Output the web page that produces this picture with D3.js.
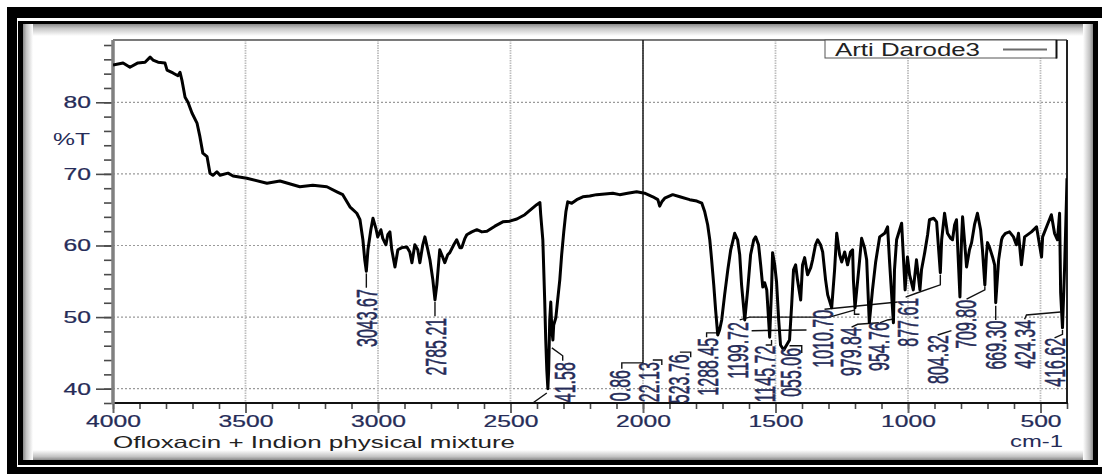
<!DOCTYPE html>
<html><head><meta charset="utf-8">
<script src="https://cdn.jsdelivr.net/npm/d3@7"></script>
<style>
html,body{margin:0;padding:0;background:#fff;}
svg{display:block;}
text{font-family:"Liberation Sans",Arial,sans-serif;}
</style></head>
<body><svg id="c" width="1102" height="474"></svg>
<script>
// ---------------- DATA ----------------
const wavenumbers = [4000,3962,3936,3906,3879,3860,3849,3830,3804,3796,3774,3755,3747,3740,3728,3717,3702,3683,3672,3661,3645,3634,3623,3608,3596,3566,3547,3495,3419,3370,3295,3246,3193,3155,3133,3106,3080,3068,3057,3050,3044,3038,3027,3019,3008,3001,2989,2982,2970,2963,2955,2948,2936,2925,2910,2891,2880,2872,2861,2850,2842,2831,2823,2812,2804,2793,2785,2778,2767,2755,2748,2737,2729,2714,2703,2691,2684,2672,2665,2646,2627,2608,2589,2559,2529,2503,2476,2446,2427,2401,2389,2386,2378,2371,2367,2363,2359,2356,2352,2348,2344,2340,2337,2329,2322,2314,2307,2299,2291,2284,2269,2250,2227,2201,2175,2144,2114,2088,2058,2024,1994,1963,1944,1937,1929,1918,1888,1861,1824,1797,1778,1767,1756,1748,1741,1733,1726,1718,1711,1703,1692,1680,1669,1654,1643,1635,1628,1616,1605,1594,1582,1575,1564,1556,1548,1541,1533,1522,1515,1511,1503,1496,1488,1481,1469,1458,1447,1439,1432,1424,1417,1405,1398,1390,1379,1367,1360,1349,1341,1330,1322,1311,1303,1288,1277,1269,1258,1250,1239,1228,1217,1209,1206,1200,1186,1175,1164,1156,1146,1134,1122,1107,1088,1077,1070,1055,1051,1043,1024,1011,1002,994,980,968,955,949,937,926,919,903,892,878,873,862,851,839,832,824,817,804,798,794,787,779,768,760,749,738,726,719,710,704,700,692,681,673,669,658,647,643,632,617,602,591,583,572,560,534,515,496,492,474,459,447,436,428,424,417,409,402,400];
const transmittance = [85.2,85.5,84.9,85.5,85.6,86.3,85.9,85.6,85.5,84.5,84.1,83.7,84.2,83.1,80.7,80.0,78.5,77.1,75.2,72.9,72.4,70.1,69.8,70.3,69.8,70.1,69.7,69.4,68.7,69.0,68.2,68.4,68.2,67.5,67.1,65.4,64.5,63.6,60.8,58.0,56.4,59.4,62.2,63.8,62.4,61.2,62.2,61.0,60.1,61.5,61.9,59.4,57.0,59.4,59.7,59.8,59.1,57.6,60.1,59.4,57.6,60.1,61.2,59.4,58.0,55.2,52.4,54.5,59.4,58.3,57.6,58.7,59.0,60.1,60.8,59.7,59.7,61.0,61.5,61.9,62.2,61.9,62.0,62.7,63.3,63.4,63.7,64.3,64.9,65.7,66.0,64.3,60.8,52.4,46.8,42.6,40.0,42.6,49.6,52.1,48.2,46.8,48.9,49.9,52.4,55.2,58.7,61.9,64.7,66.1,65.9,66.4,66.8,66.9,67.1,67.2,67.3,67.1,67.3,67.5,67.3,66.8,66.4,65.5,66.1,66.6,67.1,66.8,66.4,66.2,65.9,64.7,62.9,60.8,58.0,54.5,51.0,47.5,48.2,49.6,53.1,56.6,59.4,61.7,60.8,58.7,54.5,49.6,53.8,58.7,60.8,61.2,60.1,57.3,54.2,54.8,53.8,47.2,53.8,59.0,57.3,54.9,49.6,46.1,45.4,46.1,46.8,51.7,56.6,57.3,55.2,52.4,57.3,58.3,55.9,56.9,58.0,60.1,60.8,60.1,59.1,55.2,53.1,51.3,56.6,61.7,58.7,57.7,59.1,57.3,59.1,59.4,55.2,51.3,56.6,61.0,59.7,58.0,49.2,53.8,57.7,61.2,61.7,62.6,58.0,49.2,56.6,60.8,63.1,53.8,58.4,55.9,53.8,58.0,53.8,56.6,59.0,61.5,63.6,63.8,63.3,56.2,60.8,64.5,61.7,61.0,60.8,62.9,63.6,52.8,60.8,64.0,60.8,57.0,59.4,60.4,62.9,64.5,62.2,59.4,54.5,58.7,60.4,59.7,58.4,57.3,52.0,58.0,60.8,61.2,61.7,61.9,61.2,60.1,61.7,57.3,61.2,61.9,62.6,58.4,61.2,62.9,64.3,61.7,60.8,64.5,53.4,48.5,57.0,66.4,69.4];

const xTickValues = [4000,3500,3000,2500,2000,1500,1000,500];
const yTickValues = [40,50,60,70,80];
const seriesName = "Arti Darode3";
const sampleTitle = "Ofloxacin + Indion physical mixture";
const xUnit = "cm-1";
const yUnit = "%T";

// peak annotations (text as visible, anchor in data units: wavenumber, %T of label top)
const peakText = ["3043.67","2785.21","41.58","0.86","22.13","523.76","1288.45","1199.72","1145.72","055.06","1010.70","979.84","954.76","877.61","804.32","709.80","669.30","424.34","416.62"];
const peakLabelW = [3042,2782,2295,2088,1978,1865,1756,1643,1541,1443,1322,1217,1111,1002,888,783,670,560,447];
const peakLabelT = [53.9,49.9,43.7,42.6,43.7,44.8,47.1,49.3,46.0,45.7,51.0,48.6,49.3,52.7,47.5,52.4,49.5,49.6,47.1];
// leader lines, each a list of [wavenumber, %T]
const leaders = [
  [[3044,56.1],[3044,54.1]],
  [[2785,52.1],[2785,50.1]],
  [[2344,45.7],[2303,44.6],[2303,43.9]],
  [[2363,39.4],[2416,38.0]],
  [[2000,88.7],[2000,43.6],[2080,43.6],[2080,42.8]],
  [[1963,44.0],[1929,44.0],[1929,43.3]],
  [[1861,45.1],[1820,45.1],[1820,44.4]],
  [[1714,47.8],[1760,47.8],[1760,47.2]],
  [[1635,49.6],[1598,50.0],[1296,50.0],[1200,51.0]],
  [[1590,48.1],[1383,48.2]],
  [[1537,46.1],[1515,46.1],[1515,46.8]],
  [[1447,46.0],[1401,46.0],[1401,45.0]],
  [[1315,51.1],[1039,52.1]],
  [[1213,48.6],[1190,49.0],[1110,49.2]],
  [[1202,51.4],[1202,50.4],[1183,50.4]],
  [[1107,49.2],[1077,49.6],[1060,49.7]],
  [[1009,52.8],[964,53.4],[878,54.5],[878,55.9]],
  [[888,47.5],[836,48.1]],
  [[779,52.5],[710,53.8],[710,54.3]],
  [[669,51.6],[669,49.6]],
  [[560,49.7],[553,50.3],[424,50.7]],
  [[447,47.1],[417,47.6],[417,48.2]]
];

// ---------------- DRAW ----------------
const svg = d3.select("#c");
const W = 1102, H = 474;
const plot = {l:113, r:1067, t:40, b:403};
const labelColor = "#262c58";

// frame
svg.append("rect").attr("width",W).attr("height",H).attr("fill","#fff");
svg.append("rect").attr("x",7).attr("y",7).attr("width",W).attr("height",H).attr("fill","#000");
svg.append("rect").attr("x",17).attr("y",18).attr("width",1085).attr("height",449).attr("fill","#fff");
svg.append("rect").attr("x",18).attr("y",21).attr("width",1080).attr("height",444).attr("fill","#000");
svg.append("rect").attr("x",23).attr("y",24).attr("width",1070).attr("height",436).attr("fill","#fff");

const defs = svg.append("defs");
function grad(id,x1,y1,x2,y2){
  const g = defs.append("linearGradient").attr("id",id).attr("x1",x1).attr("y1",y1).attr("x2",x2).attr("y2",y2);
  g.append("stop").attr("offset","0").attr("stop-color","#8a8a8a");
  g.append("stop").attr("offset","0.35").attr("stop-color","#c4c4c4");
  g.append("stop").attr("offset","1").attr("stop-color","#ffffff");
}
grad("gt",0,0,0,1); grad("gb",0,1,0,0); grad("gl",0,0,1,0); grad("gr",1,0,0,0);
svg.append("rect").attr("x",23).attr("y",24).attr("width",1070).attr("height",12).attr("fill","url(#gt)");
svg.append("rect").attr("x",23).attr("y",450).attr("width",1070).attr("height",10).attr("fill","url(#gb)");
svg.append("rect").attr("x",23).attr("y",24).attr("width",10).attr("height",436).attr("fill","url(#gl)");
svg.append("rect").attr("x",1083).attr("y",24).attr("width",10).attr("height",436).attr("fill","url(#gr)");

defs.append("clipPath").attr("id","pc").append("rect")
  .attr("x",plot.l).attr("y",plot.t).attr("width",plot.r-plot.l).attr("height",plot.b-plot.t);

svg.append("rect").attr("x",plot.l).attr("y",plot.t).attr("width",plot.r-plot.l).attr("height",plot.b-plot.t).attr("fill","#fff");

const x = d3.scaleLinear().domain([4000,400]).range([plot.l, plot.r]);
const y = d3.scaleLinear().domain([38,88.7]).range([plot.b, plot.t]);

// grid
const grid = svg.append("g");
grid.selectAll("line.h").data(yTickValues).join("line")
  .attr("x1",plot.l).attr("x2",plot.r).attr("y1",d=>y(d)).attr("y2",d=>y(d))
  .attr("stroke","#9a9a9a").attr("stroke-width",1.2).attr("stroke-dasharray","2,2");
grid.selectAll("line.v").data(xTickValues.filter(d=>d!==4000)).join("line")
  .attr("x1",d=>x(d)).attr("x2",d=>x(d)).attr("y1",plot.t).attr("y2",plot.b)
  .attr("stroke","#bdbdbd").attr("stroke-width",1.8).attr("stroke-dasharray","1.5,1");

// axes
const stretch = 1.45;
const yMinor = svg.append("g").attr("transform",`translate(${plot.l},0)`)
  .call(d3.axisLeft(y).tickValues(d3.range(38,89,2)).tickSize(9).tickFormat(""));
const yMajor = svg.append("g").attr("transform",`translate(${plot.l},0)`)
  .call(d3.axisLeft(y).tickValues(yTickValues).tickSize(17).tickPadding(5).tickFormat(d3.format("d")));
const xMinor = svg.append("g").attr("transform",`translate(0,${plot.b})`)
  .call(d3.axisBottom(x).tickValues(d3.range(4000,399,-100)).tickSize(6).tickFormat(""));
const xMajor = svg.append("g").attr("transform",`translate(0,${plot.b})`)
  .call(d3.axisBottom(x).tickValues(xTickValues).tickSize(10).tickPadding(2).tickFormat(d3.format("d")));
[yMinor,yMajor,xMinor,xMajor].forEach(g=>{
  g.select(".domain").remove();
  g.selectAll(".tick line").attr("stroke","#4a4a4a").attr("stroke-width",1.6);
});
yMajor.selectAll(".tick text").attr("x",0).attr("transform",`translate(-22,0) scale(${stretch},1)`)
  .attr("font-size",17).attr("fill",labelColor).attr("stroke",labelColor).attr("stroke-width",0.25);
xMajor.selectAll(".tick text").attr("transform",`scale(${stretch},1)`)
  .attr("font-size",17).attr("fill",labelColor).attr("stroke",labelColor).attr("stroke-width",0.25);
xMajor.selectAll(".tick line").attr("stroke","#666").attr("stroke-width",2);

// frame of plot
svg.append("line").attr("x1",plot.l).attr("x2",plot.r).attr("y1",plot.t).attr("y2",plot.t).attr("stroke","#7a7a7a").attr("stroke-width",2);
svg.append("line").attr("x1",plot.r).attr("x2",plot.r).attr("y1",plot.t).attr("y2",plot.b).attr("stroke","#222").attr("stroke-width",2);
svg.append("line").attr("x1",plot.l).attr("x2",plot.r+1).attr("y1",plot.b).attr("y2",plot.b).attr("stroke","#111").attr("stroke-width",2);
svg.append("line").attr("x1",plot.l).attr("x2",plot.l).attr("y1",plot.t).attr("y2",plot.b+1).attr("stroke","#808080").attr("stroke-width",3.5);

// leaders
const inner = svg.append("g").attr("clip-path","url(#pc)");
const lineGen = d3.line().x(d=>x(d[0])).y(d=>y(d[1]));
inner.selectAll("path.leader").data(leaders).join("path")
  .attr("d",lineGen).attr("fill","none").attr("stroke","#111").attr("stroke-width",1.4);

// spectrum
const spectrum = wavenumbers.map((w,i)=>[w, transmittance[i]]);
inner.append("path").datum(spectrum)
  .attr("d",d3.line().x(d=>x(d[0])).y(d=>y(d[1])))
  .attr("fill","none").attr("stroke","#000").attr("stroke-width",3)
  .attr("stroke-linejoin","round");

// peak labels
inner.selectAll("text.peak").data(peakText).join("text")
  .attr("transform",(d,i)=>`translate(${x(peakLabelW[i])},${y(peakLabelT[i])}) scale(1.8,1) rotate(-90)`)
  .attr("text-anchor","end").attr("dy","0.35em").attr("font-size",16).attr("fill",labelColor)
  .attr("stroke",labelColor).attr("stroke-width",0.3)
  .text(d=>d);

// axis titles
svg.append("text").attr("x",53).attr("y",145).attr("font-size",17).attr("fill",labelColor)
  .attr("textLength",37).attr("lengthAdjust","spacingAndGlyphs").text(yUnit);
svg.append("text").attr("x",113).attr("y",448).attr("font-size",16.5).attr("fill","#222")
  .attr("textLength",402).attr("lengthAdjust","spacingAndGlyphs").text(sampleTitle);
svg.append("text").attr("x",1010).attr("y",447).attr("font-size",17).attr("fill",labelColor)
  .attr("textLength",53).attr("lengthAdjust","spacingAndGlyphs").text(xUnit);

// legend
const lg = svg.append("g");
lg.append("rect").attr("x",825).attr("y",plot.t).attr("width",231.5).attr("height",18)
  .attr("fill","#fff").attr("stroke","#555").attr("stroke-width",1);
lg.append("line").attr("x1",1056.5).attr("x2",1056.5).attr("y1",plot.t).attr("y2",58.5).attr("stroke","#111").attr("stroke-width",2);
lg.append("text").attr("x",835).attr("y",56).attr("font-size",17.5).attr("fill","#222")
  .attr("textLength",145).attr("lengthAdjust","spacingAndGlyphs").text(seriesName);
lg.append("line").attr("x1",1003).attr("x2",1047).attr("y1",49.5).attr("y2",49.5).attr("stroke","#6b6b6b").attr("stroke-width",2);
</script>
</body></html>
